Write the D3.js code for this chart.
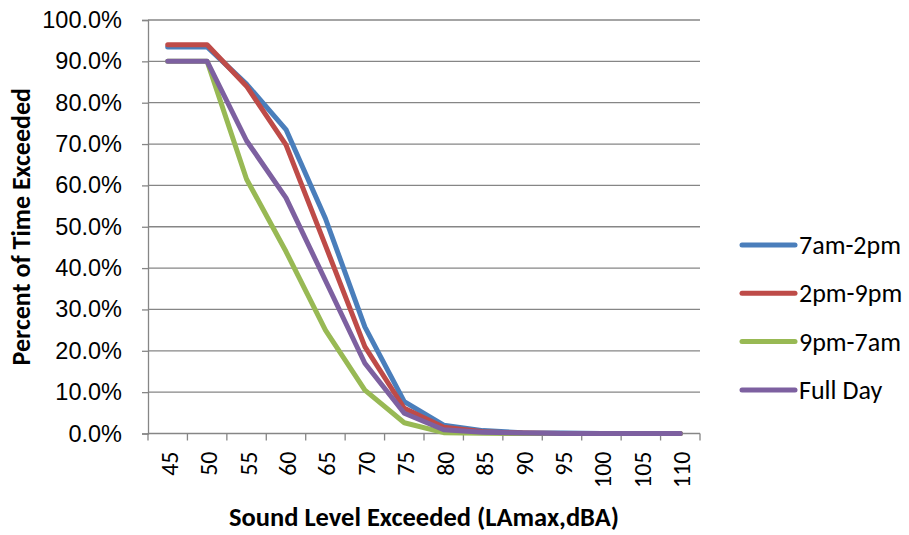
<!DOCTYPE html>
<html>
<head>
<meta charset="utf-8">
<script src="https://cdn.jsdelivr.net/npm/d3@7"></script>
<style>
  html, body { margin: 0; padding: 0; background: #fff; }
  svg { display: block; font-family: Carlito, Calibri, "Open Sans", sans-serif; }
</style>
</head>
<body>
<svg id="chart" width="909" height="535"></svg>
<script>
// Sound levels (LAmax, dBA) on the category axis
const levels = ["45", "50", "55", "60", "65", "70", "75", "80", "85", "90", "95", "100", "105", "110"];

// Percent of time each level is exceeded, per time period
const morning = [93.5, 93.5, 84.5, 73.5, 52.0, 25.8, 7.7, 2.0, 0.7, 0.2, 0.1, 0.0, 0.0, 0.0];
const afternoon = [94.0, 94.0, 84.0, 69.8, 45.5, 21.0, 6.1, 1.5, 0.4, 0.1, 0.0, 0.0, 0.0, 0.0];
const night = [90.0, 90.0, 61.5, 44.0, 25.0, 10.5, 2.6, 0.2, 0.05, 0.0, 0.0, 0.0, 0.0, 0.0];
const fullDay = [90.0, 90.0, 70.8, 57.0, 37.0, 17.0, 4.9, 0.9, 0.3, 0.1, 0.0, 0.0, 0.0, 0.0];

const seriesNames = ["7am-2pm", "2pm-9pm", "9pm-7am", "Full Day"];
const seriesColors = ["#4A7EBB", "#BE4B48", "#98B954", "#7D60A0"];
const yTicks = [0, 10, 20, 30, 40, 50, 60, 70, 80, 90, 100];

const series = [morning, afternoon, night, fullDay].map((values, i) => ({
  name: seriesNames[i], color: seriesColors[i], values
}));

const svg = d3.select("#chart");
const plot = { left: 148, right: 700, top: 20, bottom: 433.5 };

const x = d3.scaleBand().domain(levels).range([plot.left, plot.right]);
const y = d3.scaleLinear().domain([0, 100]).range([plot.bottom, plot.top]);

// Horizontal gridlines
svg.append("g")
  .selectAll("line")
  .data(yTicks.filter(t => t > 0))
  .join("line")
  .attr("x1", plot.left).attr("x2", plot.right)
  .attr("y1", d => y(d)).attr("y2", d => y(d))
  .attr("stroke", "#868686").attr("stroke-width", 1.3);

// Y axis
const yAxis = svg.append("g")
  .attr("transform", `translate(${plot.left},0)`)
  .call(d3.axisLeft(y).tickValues(yTicks).tickSize(6).tickPadding(20)
    .tickFormat(d => d.toFixed(1) + "%"));
yAxis.select(".domain").attr("stroke", "#868686").attr("stroke-width", 1.3);
yAxis.selectAll(".tick line").attr("stroke", "#868686").attr("stroke-width", 1.3);
yAxis.selectAll(".tick text")
  .attr("fill", "#000").style("font-size", "23.5px");

// X axis: ticks sit between categories
const xAxis = svg.append("g")
  .attr("transform", `translate(0,${plot.bottom})`);
xAxis.append("line")
  .attr("x1", plot.left).attr("x2", plot.right)
  .attr("stroke", "#868686").attr("stroke-width", 1.3);
const boundaries = levels.map(d => x(d)).concat([x(levels[levels.length - 1]) + x.bandwidth()]);
xAxis.selectAll("line.tick")
  .data(boundaries)
  .join("line")
  .attr("class", "tick")
  .attr("x1", d => d).attr("x2", d => d)
  .attr("y1", 0).attr("y2", 7)
  .attr("stroke", "#868686").attr("stroke-width", 1.3);
xAxis.selectAll("text")
  .data(levels)
  .join("text")
  .attr("transform", d => `translate(${x(d) + x.bandwidth() / 2 + 10},18) rotate(-90)`)
  .attr("text-anchor", "end")
  .style("font-size", "24px")
  .attr("fill", "#000")
  .text(d => d);

// Series lines
const line = d3.line()
  .x((d, i) => x(levels[i]) + x.bandwidth() / 2)
  .y(d => y(d));

svg.append("g")
  .selectAll("path")
  .data(series)
  .join("path")
  .attr("d", d => line(d.values))
  .attr("fill", "none")
  .attr("stroke", d => d.color)
  .attr("stroke-width", 5)
  .attr("stroke-linejoin", "round")
  .attr("stroke-linecap", "round");

// Axis titles
svg.append("text")
  .attr("x", (plot.left + plot.right) / 2)
  .attr("y", 526)
  .attr("text-anchor", "middle")
  .style("font-size", "26.5px").style("font-weight", "bold")
  .text("Sound Level Exceeded (LAmax,dBA)");

svg.append("text")
  .attr("transform", `translate(30,${(plot.top + plot.bottom) / 2}) rotate(-90)`)
  .attr("text-anchor", "middle")
  .style("font-size", "26px").style("font-weight", "bold")
  .text("Percent of Time Exceeded");

// Legend
const legend = svg.append("g")
  .selectAll("g")
  .data(series)
  .join("g")
  .attr("transform", (d, i) => `translate(742,${245 + i * 48.3})`);
legend.append("line")
  .attr("x1", 0).attr("x2", 53)
  .attr("stroke", d => d.color).attr("stroke-width", 5)
  .attr("stroke-linecap", "round");
legend.append("text")
  .attr("x", 57).attr("dy", "0.35em")
  .style("font-size", "26px")
  .text(d => d.name);
</script>
</body>
</html>
